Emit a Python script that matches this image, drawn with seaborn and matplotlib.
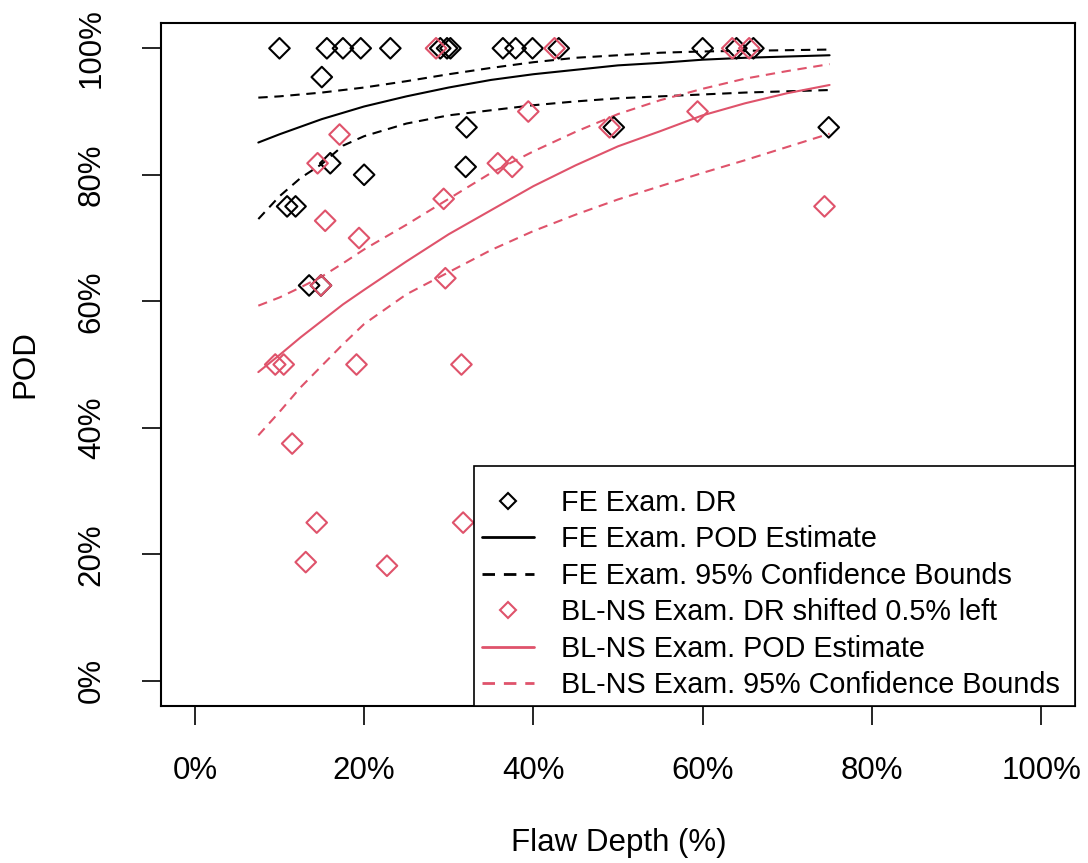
import matplotlib
matplotlib.use('Agg')
import matplotlib.pyplot as plt
from matplotlib.lines import Line2D
from matplotlib.patches import Rectangle
import seaborn as sns

# FE exam detection rates (flaw depth %, POD %)
fe_depth = [10.0, 15.6, 17.5, 19.6, 23.1, 29.0, 29.8, 30.2, 36.4, 37.9, 39.9, 43.0, 60.0, 64.0, 66.0,
            15.0, 32.1, 49.5, 16.0, 20.0, 32.0, 10.9, 11.9, 13.5, 14.9, 74.9]
fe_dr = [100, 100, 100, 100, 100, 100, 100, 100, 100, 100, 100, 100, 100, 100, 100,
         95.45, 87.5, 87.5, 81.82, 80.0, 81.25, 75.0, 75.0, 62.5, 62.5, 87.5]

# BL-NS exam detection rates (already shifted 0.5% left)
bl_depth = [28.5, 42.5, 63.5, 65.5, 17.1, 39.4, 59.4, 49.0, 14.5, 35.8, 37.5, 29.4, 15.4, 19.4,
            29.6, 14.9, 9.5, 10.5, 19.1, 31.5, 11.5, 14.4, 31.7, 13.1, 22.7, 74.4]
bl_dr = [100, 100, 100, 100, 86.36, 90.0, 90.0, 87.5, 81.82, 81.82, 81.25, 76.19, 72.73, 70.0,
         63.64, 62.5, 50, 50, 50, 50, 37.5, 25, 25, 18.75, 18.18, 75.0]

# POD curves
curve_depth = [7.5, 10, 12.5, 15, 17.5, 20, 25, 30, 35, 40, 45, 50, 55, 60, 65, 70, 75]
fe_est = [85.1, 86.4, 87.6, 88.8, 89.8, 90.8, 92.4, 93.8, 95.0, 95.9, 96.6, 97.3, 97.7, 98.2,
          98.5, 98.7, 98.9]
fe_upper = [92.2, 92.4, 92.7, 93.0, 93.4, 93.8, 94.8, 95.9, 96.9, 97.8, 98.5, 98.9, 99.3, 99.5,
            99.6, 99.7, 99.8]
fe_lower = [73.0, 76.6, 79.5, 81.7, 84.6, 86.1, 88.1, 89.4, 90.2, 91.0, 91.6, 92.1, 92.4, 92.7,
            93.0, 93.2, 93.4]
bl_est = [48.8, 51.5, 54.3, 56.9, 59.5, 61.8, 66.3, 70.6, 74.4, 78.2, 81.5, 84.5, 86.9, 89.4,
          91.3, 92.9, 94.2]
bl_upper = [59.3, 60.6, 62.2, 63.9, 66.0, 68.2, 72.1, 76.2, 80.3, 83.7, 86.8, 89.6, 91.8, 93.6,
            95.2, 96.4, 97.5]
bl_lower = [38.8, 42.5, 46.4, 49.8, 53.2, 56.4, 61.1, 64.6, 68.1, 71.1, 73.7, 76.1, 78.2, 80.3,
            82.3, 84.4, 86.5]

ticks = [0, 20, 40, 60, 80, 100]
tick_labels = ['0%', '20%', '40%', '60%', '80%', '100%']

RED = '#DF536B'
DASH = (0, (4.5, 3.2))

sns.set_style('ticks')
plt.rcParams['font.family'] = ['Liberation Sans', 'DejaVu Sans']
plt.rcParams['text.color'] = 'black'

fig = plt.figure(figsize=(10.88, 8.63), dpi=100)
ax = fig.add_axes([161 / 1088, 1 - 706 / 863, 914 / 1088, 683 / 863])

# curves
sns.lineplot(x=curve_depth, y=fe_est, color='black', lw=1.5, ax=ax)
sns.lineplot(x=curve_depth, y=fe_upper, color='black', lw=1.5, linestyle=DASH, ax=ax)
sns.lineplot(x=curve_depth, y=fe_lower, color='black', lw=1.5, linestyle=DASH, ax=ax)
sns.lineplot(x=curve_depth, y=bl_est, color=RED, lw=1.5, ax=ax)
sns.lineplot(x=curve_depth, y=bl_upper, color=RED, lw=1.5, linestyle=DASH, ax=ax)
sns.lineplot(x=curve_depth, y=bl_lower, color=RED, lw=1.5, linestyle=DASH, ax=ax)

# points
sns.scatterplot(x=fe_depth, y=fe_dr, marker='D', s=110, facecolors='none',
                edgecolor='black', linewidth=1.5, ax=ax, zorder=3)
sns.scatterplot(x=bl_depth, y=bl_dr, marker='D', s=110, facecolors='none',
                edgecolor=RED, linewidth=1.5, ax=ax, zorder=3)

ax.set_xlim(-4, 104)
ax.set_ylim(-4, 104)
ax.set_xticks(ticks)
ax.set_xticklabels(tick_labels)
ax.set_yticks(ticks)
ax.set_yticklabels(tick_labels, rotation=90, va='center')
ax.tick_params(axis='both', direction='out', length=14, width=1.2, color='black',
               labelsize=22.5, labelcolor='black')
ax.tick_params(axis='x', pad=22)
ax.tick_params(axis='y', pad=25)
for sp in ax.spines.values():
    sp.set_visible(True)
    sp.set_color('black')
    sp.set_linewidth(1.5)

ax.set_xlabel('Flaw Depth (%)', fontsize=22.5, color='black')
ax.set_ylabel('POD', fontsize=22.5, color='black')
ax.xaxis.set_label_coords(0.501, -0.2006)
ax.xaxis.label.set_verticalalignment('center')
ax.yaxis.set_label_coords(-0.1488, 0.5)
ax.yaxis.label.set_verticalalignment('center')

# legend: R-style box drawn separately, entries placed inside it
ax.add_patch(Rectangle((0.3425, 0), 1 - 0.3425, 0.352, transform=ax.transAxes,
                       facecolor='white', edgecolor='black', lw=1.2, zorder=4))
handles = [
    Line2D([], [], marker='D', ls='none', mfc='none', mec='black', ms=8, mew=1.5),
    Line2D([], [], color='black', lw=2),
    Line2D([], [], color='black', lw=2, linestyle=DASH),
    Line2D([], [], marker='D', ls='none', mfc='none', mec=RED, ms=8, mew=1.5),
    Line2D([], [], color=RED, lw=2),
    Line2D([], [], color=RED, lw=2, linestyle=DASH),
]
labels = ['FE Exam. DR', 'FE Exam. POD Estimate', 'FE Exam. 95% Confidence Bounds',
          'BL-NS Exam. DR shifted 0.5% left', 'BL-NS Exam. POD Estimate',
          'BL-NS Exam. 95% Confidence Bounds']
leg = ax.legend(handles, labels, loc='upper left', bbox_to_anchor=(0.3512, 0.318),
                fontsize=20.7, frameon=False, borderaxespad=0, borderpad=0,
                handlelength=1.8, handletextpad=0.95, labelspacing=0.295)
leg.set_zorder(5)

fig.savefig('out.png', dpi=100)
